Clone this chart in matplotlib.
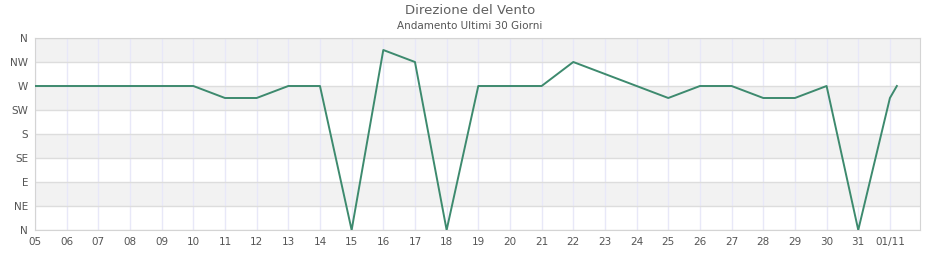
import matplotlib.pyplot as plt
import matplotlib.dates as mdates
import pandas as pd

# dati: direzione del vento (gradi) giorno per giorno
giorni = ['2024-10-05 00:00', '2024-10-06 00:00', '2024-10-07 00:00', '2024-10-08 00:00',
          '2024-10-09 00:00', '2024-10-10 00:00', '2024-10-11 00:00', '2024-10-12 00:00',
          '2024-10-13 00:00', '2024-10-14 00:00', '2024-10-15 00:00', '2024-10-16 00:00',
          '2024-10-17 00:00', '2024-10-18 00:00', '2024-10-19 00:00', '2024-10-20 00:00',
          '2024-10-21 00:00', '2024-10-22 00:00', '2024-10-23 00:00', '2024-10-24 00:00',
          '2024-10-25 00:00', '2024-10-26 00:00', '2024-10-27 00:00', '2024-10-28 00:00',
          '2024-10-29 00:00', '2024-10-30 00:00', '2024-10-31 00:00', '2024-11-01 00:00',
          '2024-11-01 05:15']
direzione = [270, 270, 270, 270, 270, 270, 247.5, 247.5, 270, 270,
             0, 337.5, 315, 0, 270, 270, 270, 315, 292.5, 270,
             247.5, 270, 270, 247.5, 247.5, 270, 0, 247.5, 270]
etichette_y = ['N', 'NE', 'E', 'SE', 'S', 'SW', 'W', 'NW', 'N']
etichette_x = ['05', '06', '07', '08', '09', '10', '11', '12', '13', '14', '15',
               '16', '17', '18', '19', '20', '21', '22', '23', '24', '25', '26',
               '27', '28', '29', '30', '31', '01/11']

date = pd.to_datetime(giorni, format='%Y-%m-%d %H:%M')

fig = plt.figure(figsize=(9.4, 2.6), dpi=100)
ax = fig.add_axes([35 / 940, 30 / 260, 885 / 940, 192 / 260])

# bande alternate
for i in range(8):
    if i % 2 == 1:
        ax.axhspan(i * 45, (i + 1) * 45, color='#f2f2f2', zorder=0, lw=0)

ax.plot(date, direzione, color='#3d8a6e', lw=1.4, zorder=3)

tick_date = pd.date_range('2024-10-05', '2024-11-01', freq='D')
ax.set_xticks(tick_date)
ax.set_xticklabels(etichette_x)
ax.set_yticks(range(0, 361, 45))
ax.set_yticklabels(etichette_y)
ax.set_ylim(0, 360)
ax.set_xlim(date[0], pd.Timestamp('2024-11-01') + pd.Timedelta(hours=22.8))

ax.grid(axis='x', color='#e8e8f8', lw=1, zorder=1)
ax.grid(axis='y', color='#dddddd', lw=1, zorder=1)
ax.set_axisbelow(True)
for s in ax.spines.values():
    s.set_color('#d4d4d4')
ax.tick_params(length=0, labelsize=7.5, labelcolor='#555555', pad=5)

fig.text(0.5, 1 - 11 / 260, 'Direzione del Vento', ha='center', va='center',
         fontsize=9.5, color='#606060')
fig.text(0.5, 1 - 26 / 260, 'Andamento Ultimi 30 Giorni', ha='center', va='center',
         fontsize=7.5, color='#555555')

fig.savefig('out.png', dpi=100)
